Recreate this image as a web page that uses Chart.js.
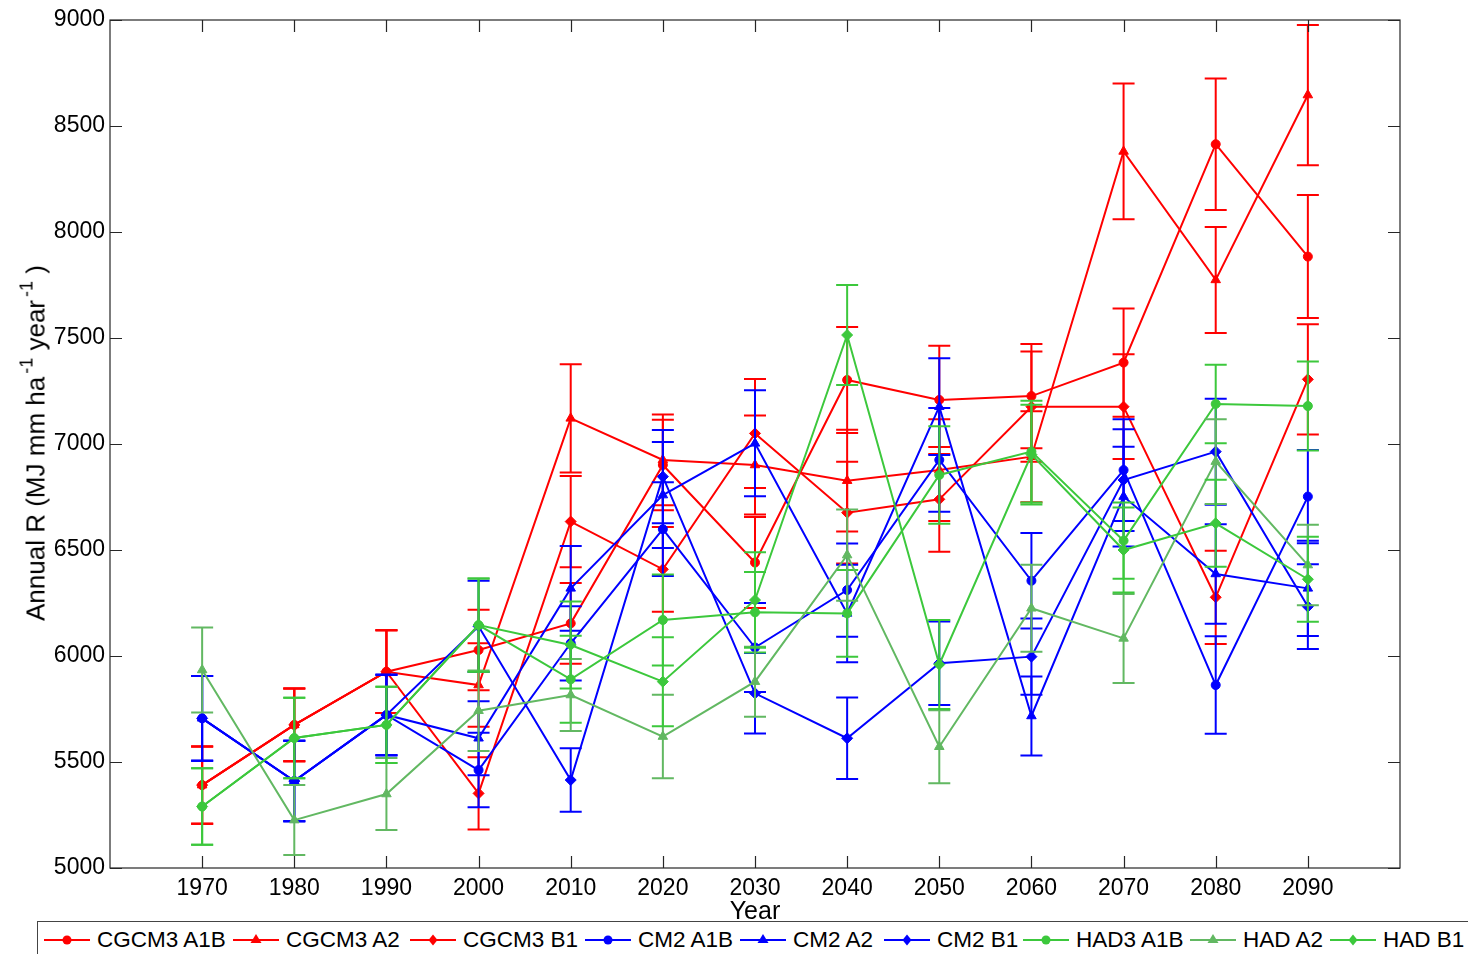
<!DOCTYPE html>
<html>
<head>
<meta charset="utf-8">
<script src="https://cdn.jsdelivr.net/npm/chart.js@4"></script>
<style>
  body { margin: 0; background: #fff; }
  #wrap { position: relative; width: 1468px; height: 954px; overflow: hidden; background: #fff;
          font-family: 'Liberation Sans', Arial, sans-serif; color: #000; }
  #c { position: absolute; left: 0; top: 0; }
  #ytitle { position: absolute; left: 36px; top: 443px; transform: translate(-50%, -50%) rotate(-90deg);
            white-space: nowrap; font-size: 26px; }
  #ytitle sup { font-size: 18px; vertical-align: 12px; line-height: 0; margin-left: 3px; }
  #xtitle { position: absolute; left: 755px; top: 896px; transform: translateX(-50%); font-size: 25px; }
  #legend { position: absolute; left: 37px; top: 921px; width: 1460px; height: 60px;
            border: 1.5px solid #444; background: #fff; }
  .entry { position: absolute; top: 5px; height: 26px; display: flex; align-items: center; font-size: 22.5px; white-space: nowrap; }
  .entry svg { margin-right: 7px; }
</style>
</head>
<body>
<div id="wrap">
  <canvas id="c" width="1468" height="954"></canvas>
  <div id="ytitle">Annual R (MJ mm ha<sup>-1</sup> year<sup>-1</sup> )</div>
  <div id="xtitle">Year</div>
  <div id="legend"></div>
</div>
<script>
// Decades on the x axis
const years = [1970, 1980, 1990, 2000, 2010, 2020, 2030, 2040, 2050, 2060, 2070, 2080, 2090];

// CGCM3 scenarios (value, +/- error)
const cgcm3A1B    = [5391, 5675, 5926, 6028, 6154, 6901, 6441, 7302, 7208, 7226, 7384, 8414, 7884];
const cgcm3A1BErr = [182, 172, 195, 190, 190, 213, 215, 250, 255, 246, 255, 310, 290];
const cgcm3A2     = [5391, 5675, 5926, 5863, 7121, 6925, 6901, 6827, 6877, 6940, 8380, 7774, 8646];
const cgcm3A2Err  = [182, 172, 195, 197, 255, 214, 233, 240, 240, 215, 320, 250, 331];
const cgcm3B1     = [5391, 5675, 5926, 5352, 6634, 6409, 7050, 6676, 6739, 7176, 7176, 6277, 7305];
const cgcm3B1Err  = [182, 172, 195, 170, 215, 200, 257, 240, 247, 260, 247, 220, 260];

// CM2 scenarios
const cm2A1B    = [5706, 5410, 5722, 5462, 6060, 6598, 6040, 6311, 6925, 6355, 6877, 5863, 6752];
const cm2A1BErr = [200, 190, 190, 176, 175, 221, 210, 220, 245, 225, 240, 230, 220];
const cm2A2     = [5706, 5410, 5722, 5612, 6319, 6759, 7003, 6201, 7176, 5717, 6752, 6387, 6319];
const cm2A2Err  = [200, 190, 190, 175, 200, 250, 250, 230, 228, 186, 235, 235, 225];
const cm2B1     = [5706, 5410, 5722, 6140, 5415, 6846, 5824, 5612, 5966, 5997, 6830, 6964, 6233];
const cm2B1Err  = [200, 190, 190, 215, 150, 220, 190, 192, 197, 180, 240, 250, 200];

// HAD scenarios
const had3A1B    = [5290, 5613, 5675, 6146, 5890, 6170, 6206, 6201, 6854, 6964, 6544, 7189, 7179];
const had3A1BErr = [180, 190, 180, 220, 205, 215, 190, 205, 230, 240, 180, 185, 210];
const hadA2      = [5934, 5226, 5349, 5742, 5816, 5620, 5879, 6476, 5572, 6225, 6083, 6917, 6429];
const hadA2Err   = [200, 165, 170, 190, 170, 197, 165, 215, 172, 205, 210, 200, 190];
const hadB1      = [5290, 5613, 5675, 6146, 6052, 5879, 6264, 7514, 5960, 6950, 6500, 6626, 6362];
const hadB1Err   = [180, 190, 180, 220, 205, 210, 225, 236, 210, 235, 200, 205, 200];

const yTicks = [5000, 5500, 6000, 6500, 7000, 7500, 8000, 8500, 9000];

const RED = '#ff0000', BLUE = '#0000ff', GREEN = '#3cc83c', GREEN2 = '#62b862';

const series = [
  { name: 'CGCM3 A1B', values: cgcm3A1B, err: cgcm3A1BErr, color: RED,  marker: 'circle' },
  { name: 'CGCM3 A2',  values: cgcm3A2,  err: cgcm3A2Err,  color: RED,  marker: 'triangle' },
  { name: 'CGCM3 B1',  values: cgcm3B1,  err: cgcm3B1Err,  color: RED,  marker: 'rectRot' },
  { name: 'CM2 A1B',   values: cm2A1B,   err: cm2A1BErr,   color: BLUE, marker: 'circle' },
  { name: 'CM2 A2',    values: cm2A2,    err: cm2A2Err,    color: BLUE, marker: 'triangle' },
  { name: 'CM2 B1',    values: cm2B1,    err: cm2B1Err,    color: BLUE, marker: 'rectRot' },
  { name: 'HAD3 A1B',  values: had3A1B,  err: had3A1BErr,  color: GREEN, marker: 'circle' },
  { name: 'HAD A2',    values: hadA2,    err: hadA2Err,    color: GREEN2, marker: 'triangle' },
  { name: 'HAD B1',    values: hadB1,    err: hadB1Err,    color: GREEN, marker: 'rectRot' }
];

const FONT = { family: "'Liberation Sans', Arial, sans-serif", size: 23 };

// error bars drawn just before each dataset's line
const errorBars = {
  id: 'errorBars',
  beforeDatasetDraw(chart, args) {
    const ds = chart.data.datasets[args.index];
    const xs = chart.scales.x, ys = chart.scales.y;
    const ctx = chart.ctx;
    ctx.save();
    ctx.strokeStyle = ds.borderColor;
    ctx.lineWidth = 2;
    ds.data.forEach((p, j) => {
      const e = ds.errors[j];
      const px = xs.getPixelForValue(p.x);
      const top = ys.getPixelForValue(p.y + e);
      const bot = ys.getPixelForValue(p.y - e);
      ctx.beginPath();
      ctx.moveTo(px, top); ctx.lineTo(px, bot);
      ctx.moveTo(px - 11, top); ctx.lineTo(px + 11, top);
      ctx.moveTo(px - 11, bot); ctx.lineTo(px + 11, bot);
      ctx.stroke();
    });
    ctx.restore();
  }
};

// box around the plot with inward ticks on all sides
const frame = {
  id: 'frame',
  afterDraw(chart) {
    const { ctx, chartArea: a } = chart;
    const xs = chart.scales.x, ys = chart.scales.y;
    ctx.save();
    ctx.strokeStyle = '#262626';
    ctx.lineWidth = 1.2;
    ctx.strokeRect(a.left, a.top, a.right - a.left, a.bottom - a.top);
    ctx.beginPath();
    years.forEach(v => {
      const px = Math.round(xs.getPixelForValue(v)) + 0.5;
      ctx.moveTo(px, a.bottom); ctx.lineTo(px, a.bottom - 12);
      ctx.moveTo(px, a.top); ctx.lineTo(px, a.top + 12);
    });
    yTicks.forEach(v => {
      const py = Math.round(ys.getPixelForValue(v)) + 0.5;
      ctx.moveTo(a.left, py); ctx.lineTo(a.left + 12, py);
      ctx.moveTo(a.right, py); ctx.lineTo(a.right - 12, py);
    });
    ctx.stroke();
    ctx.restore();
  }
};

new Chart(document.getElementById('c'), {
  type: 'line',
  data: {
    datasets: series.map((s, i) => ({
      label: s.name,
      data: years.map((yr, j) => ({ x: yr, y: s.values[j] })),
      errors: s.err,
      borderColor: s.color,
      backgroundColor: s.color,
      borderWidth: 2,
      pointStyle: s.marker,
      pointRadius: s.marker === 'circle' ? 4.5 : 5.5,
      pointBorderWidth: 1,
      tension: 0,
      order: series.length - i
    }))
  },
  options: {
    responsive: false,
    animation: false,
    layout: { padding: { top: 20, right: 68, left: 0, bottom: 0 } },
    plugins: { legend: { display: false }, tooltip: { enabled: false } },
    scales: {
      x: {
        type: 'linear', min: 1960, max: 2100,
        grid: { display: false, drawTicks: false },
        border: { display: false },
        ticks: { font: FONT, color: '#000', padding: 7, maxRotation: 0, autoSkip: false,
                 callback: v => String(v) },
        afterBuildTicks: s => { s.ticks = years.map(v => ({ value: v })); },
        afterFit: s => { s.height = 86; }
      },
      y: {
        min: 5000, max: 9000,
        grid: { display: false, drawTicks: false },
        border: { display: false },
        ticks: { font: FONT, color: '#000', padding: 5, stepSize: 500,
                 callback: v => String(v) },
        afterFit: s => { s.width = 110; }
      }
    }
  },
  plugins: [errorBars, frame]
});

// legend box below the plot
const legendX = [6, 195, 372, 547, 702, 846, 985, 1152, 1292];
const legend = document.getElementById('legend');
function markerSvg(s) {
  let m;
  if (s.marker === 'circle') m = `<circle cx="23" cy="10" r="4.5" fill="${s.color}"/>`;
  else if (s.marker === 'triangle') m = `<polygon points="23,4 28.5,13 17.5,13" fill="${s.color}"/>`;
  else m = `<polygon points="23,4.5 27.5,10 23,15.5 18.5,10" fill="${s.color}"/>`;
  return `<svg width="46" height="20"><line x1="0" y1="10" x2="46" y2="10" stroke="${s.color}" stroke-width="2"/>${m}</svg>`;
}
series.forEach((s, i) => {
  const el = document.createElement('div');
  el.className = 'entry';
  el.style.left = legendX[i] + 'px';
  el.innerHTML = markerSvg(s) + '<span>' + s.name + '</span>';
  legend.appendChild(el);
});
</script>
</body>
</html>
